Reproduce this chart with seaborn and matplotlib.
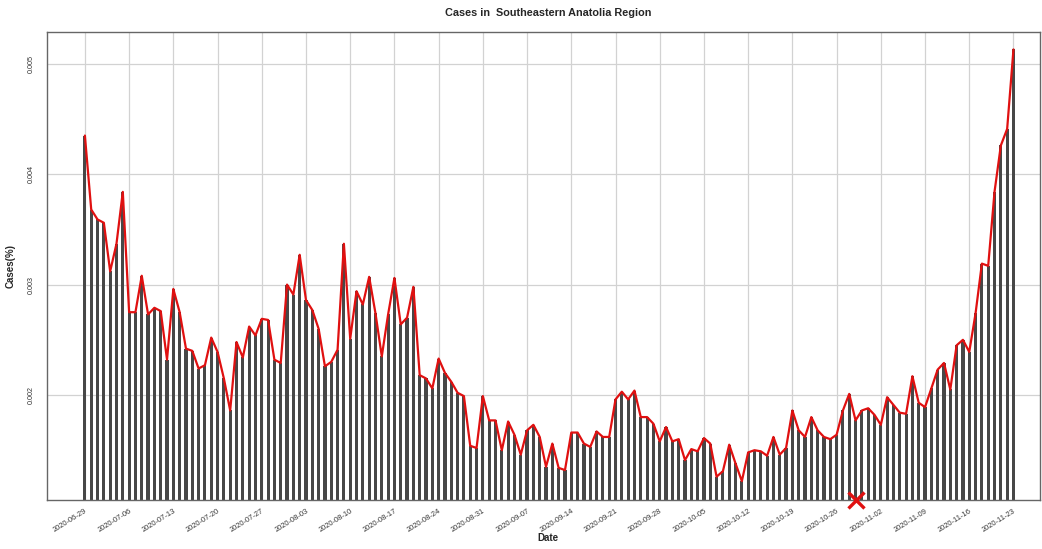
import numpy as np
import pandas as pd
import matplotlib
matplotlib.use("Agg")
import matplotlib.pyplot as plt
import seaborn as sns

# Daily share of cases (%), starting 2020-06-29
start_date = "2020-06-29"
cases_pct = [
    0.00435, 0.00368, 0.00359, 0.00356, 0.00312, 0.00337, 0.00384,
    0.00275, 0.00275, 0.00308, 0.00273, 0.00279, 0.00276, 0.00232,
    0.00296, 0.00275, 0.00242, 0.00240, 0.00224, 0.00227, 0.00252,
    0.00239, 0.00215, 0.00186, 0.00248, 0.00234, 0.00262, 0.00254,
    0.00269, 0.00268, 0.00232, 0.00229, 0.00300, 0.00291, 0.00327,
    0.00286, 0.00277, 0.00260, 0.00226, 0.00230, 0.00241, 0.00337,
    0.00251, 0.00294, 0.00282, 0.00307, 0.00274, 0.00235, 0.00273,
    0.00306, 0.00264, 0.00270, 0.00298, 0.00218, 0.00215, 0.00206,
    0.00233, 0.00220, 0.00212, 0.00202, 0.00199, 0.00154, 0.00152,
    0.00199, 0.00177, 0.00177, 0.00150, 0.00176, 0.00164, 0.00146,
    0.00168, 0.00173, 0.00162, 0.00135, 0.00156, 0.00134, 0.00132,
    0.00166, 0.00166, 0.00156, 0.00153, 0.00167, 0.00162, 0.00162,
    0.00196, 0.00203, 0.00196, 0.00204, 0.00180, 0.00180, 0.00174,
    0.00158, 0.00171, 0.00158, 0.00160, 0.00141, 0.00151, 0.00149,
    0.00161, 0.00156, 0.00126, 0.00131, 0.00155, 0.00138, 0.00122,
    0.00148, 0.00150, 0.00149, 0.00145, 0.00162, 0.00146, 0.00152,
    0.00186, 0.00168, 0.00162, 0.00180, 0.00168, 0.00162, 0.00160,
    0.00164, 0.00186, 0.00201, 0.00177, 0.00186, 0.00188, 0.00182,
    0.00173, 0.00198, 0.00191, 0.00184, 0.00183, 0.00217, 0.00193,
    0.00189, 0.00206, 0.00223, 0.00229, 0.00205, 0.00245, 0.00250,
    0.00239, 0.00274, 0.00319, 0.00317, 0.00384, 0.00426, 0.00441,
    0.00513,
]
marker_date = "2020-10-29"
y_ticks = [0.002, 0.003, 0.004, 0.005]
y_tick_labels = ["0.002", "0.003", "0.004", "0.005"]

dates = pd.date_range(start_date, periods=len(cases_pct), freq="D")
pos = np.arange(len(cases_pct))
df = pd.DataFrame({"pos": pos, "cases": cases_pct})

sns.set_theme(style="white")
plt.rcParams["font.family"] = ["Liberation Sans", "DejaVu Sans"]

W, H = 1042, 549
fig = plt.figure(figsize=(W / 100, H / 100), dpi=100)
ax = fig.add_axes([47 / W, 1 - 500 / H, (1040 - 47) / W, (500 - 32) / H])

sns.barplot(data=df, x="pos", y="cases", color="#474747", width=0.5,
            saturation=1, linewidth=0, ax=ax, zorder=2)
sns.lineplot(data=df, x="pos", y="cases", color="#e01010", linewidth=1.6,
             ax=ax, zorder=3)

# Marker on the date axis
mk = (pd.Timestamp(marker_date) - pd.Timestamp(start_date)).days
ax.plot([mk], [0.001049], marker="x", color="#e01010", markersize=11,
        markeredgewidth=2.4, clip_on=False, zorder=5)

ax.set_xlim(-6, 151.2)
ax.set_ylim(0.001049, 0.005288)

tick_pos = pos[::7]
ax.set_xticks(tick_pos)
ax.set_xticklabels([d.strftime("%Y-%m-%d") for d in dates[::7]],
                   rotation=32, ha="right", rotation_mode="anchor",
                   fontsize=5.4, color="#333333")
ax.set_yticks(y_ticks)
ax.set_yticklabels(y_tick_labels, rotation=90, va="center",
                   fontsize=5.2, color="#333333")
ax.tick_params(axis="both", length=3.5, width=0.8, color="#555555", pad=2)
ax.tick_params(axis="y", pad=5)

ax.grid(True, color="#d2d2d2", linewidth=0.9)
ax.set_axisbelow(True)
for s in ax.spines.values():
    s.set_color("#666666")
    s.set_linewidth(1.0)

ax.set_xlabel("")
ax.set_ylabel("")
fig.text(548 / W, 1 - 13 / H, "Cases in  Southeastern Anatolia Region",
         ha="center", va="center", fontsize=7.8, fontweight="bold")
fig.text(548 / W, 1 - 538 / H, "Date", ha="center", va="center",
         fontsize=7, fontweight="bold")
fig.text(11 / W, 1 - 266 / H, "Cases(%)", ha="center", va="center",
         rotation=90, fontsize=7, fontweight="bold")

fig.savefig("out.png", dpi=100)
